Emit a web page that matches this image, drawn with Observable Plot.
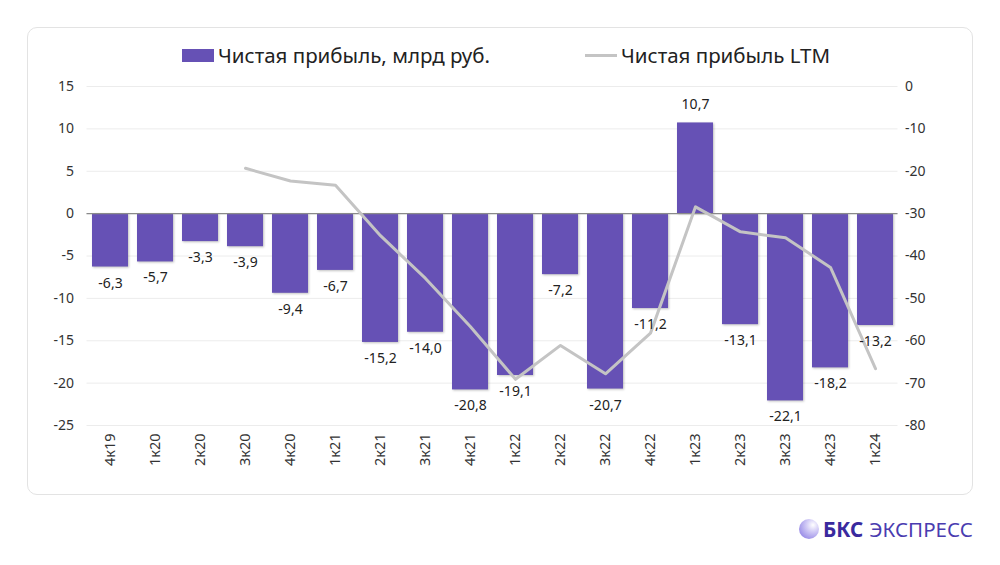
<!DOCTYPE html>
<html><head><meta charset="utf-8">
<script src="https://cdn.jsdelivr.net/npm/d3@7"></script>
<script src="https://cdn.jsdelivr.net/npm/@observablehq/plot@0.6"></script>
<style>
html,body{margin:0;padding:0;background:#fff;font-family:"Noto Sans","Open Sans",sans-serif;}
#wrap{position:relative;width:1000px;height:565px;overflow:hidden;}
#card{position:absolute;left:27px;top:27px;width:946px;height:468px;border:1px solid #e3e3e3;border-radius:10px;box-sizing:border-box;}
#legend{position:absolute;top:41px;left:182px;display:flex;font-size:20.5px;color:#222;white-space:nowrap;}
.li{display:flex;align-items:center;}
.sw{width:32px;height:13px;background:#6651b5;margin-right:4px;}
.ln{width:32px;height:3px;background:#c4c4c4;margin-right:4px;}
#chart{position:absolute;left:0;top:0;}
#logo{position:absolute;left:799px;top:515px;display:flex;align-items:center;font-size:20.5px;white-space:nowrap;}
#logo .c{width:20px;height:20px;border-radius:50%;background:radial-gradient(circle at 70% 30%,#ffffff 0%,#d6d0f7 30%,#7f6fe0 100%);margin-right:4px;}
#logo b{color:#3a2a9e;font-weight:700;margin-right:6px;}
#logo span{color:#4a3cb0;}
</style></head>
<body><div id="wrap">
<div id="card"></div>
<div id="legend">
  <div class="li" id="l1"><div class="sw"></div>Чистая прибыль, млрд руб.</div>
  <div class="li" id="l2" style="position:absolute;left:403px;"><div class="ln"></div>Чистая прибыль LTM</div>
</div>
<div id="chart"></div>
<div id="logo"><div class="c"></div><b>БКС</b><span>ЭКСПРЕСС</span></div>
</div>
<script>
const quarters = ["4к19","1к20","2к20","3к20","4к20","1к21","2к21","3к21","4к21","1к22","2к22","3к22","4к22","1к23","2к23","3к23","4к23","1к24"];
const profit = [-6.3,-5.7,-3.3,-3.9,-9.4,-6.7,-15.2,-14.0,-20.8,-19.1,-7.2,-20.7,-11.2,10.7,-13.1,-22.1,-18.2,-13.2];
const ltmQuarters = ["3к20","4к20","1к21","2к21","3к21","4к21","1к22","2к22","3к22","4к22","1к23","2к23","3к23","4к23","1к24"];
const ltm = [-19.3,-22.3,-23.3,-35.2,-45.3,-56.7,-69.1,-61.1,-67.8,-58.2,-28.4,-34.3,-35.7,-42.7,-66.6];
const leftTicks = [15,10,5,0,-5,-10,-15,-20,-25];
const rightTicks = [0,-10,-20,-30,-40,-50,-60,-70,-80];

const toLeft = v => 15 + v / 2;
const bars = quarters.map((q,i)=>({q, v: profit[i]}));
const line = ltmQuarters.map((q,i)=>({q, v: toLeft(ltm[i])}));
const fmt = v => v.toFixed(1).replace(".", ",");

const chart = Plot.plot({
  width: 1000, height: 565,
  marginLeft: 86.5, marginRight: 102.5, marginTop: 86, marginBottom: 140,
  style: {fontFamily: '"Noto Sans","Open Sans",sans-serif', fontSize: "14px", color: "#333", background: "transparent"},
  x: {domain: quarters, paddingInner: 0.2, paddingOuter: 0.1, label: null},
  y: {domain: [-25, 15], label: null},
  marks: [
    Plot.gridY(leftTicks, {stroke: "#ececec", strokeOpacity: 1}),
    Plot.axisY({ticks: leftTicks, tickSize: 0, tickPadding: 13, label: null, tickFormat: d => d}),
    Plot.axisY({anchor: "right", ticks: rightTicks.map(toLeft), tickSize: 0, tickPadding: 7, label: null, tickFormat: d => String(Math.round((d - 15) * 2))}),
    Plot.axisX({tickSize: 0, tickRotate: -90, tickPadding: 8, label: null, fontSize: 14.5}),
    Plot.barY(bars, {x: "q", y: "v", fill: "#6651b5"}),
    Plot.ruleY([0], {stroke: "#8a8a8a", strokeWidth: 1.3}),
    Plot.line(line, {x: "q", y: "v", stroke: "#c4c4c4", strokeWidth: 3}),
    Plot.text(bars.filter(d => d.v < 0), {x: "q", y: "v", text: d => fmt(d.v), dy: 16, fill: "#222"}),
    Plot.text(bars.filter(d => d.v >= 0), {x: "q", y: "v", text: d => fmt(d.v), dy: -18, fill: "#222"})
  ]
});
d3.select(chart).selectAll('g[aria-label="bar"]').style("filter", "drop-shadow(1px 1px 1px rgba(0,0,0,0.25))");
document.getElementById("chart").appendChild(chart);
</script>
</body></html>
